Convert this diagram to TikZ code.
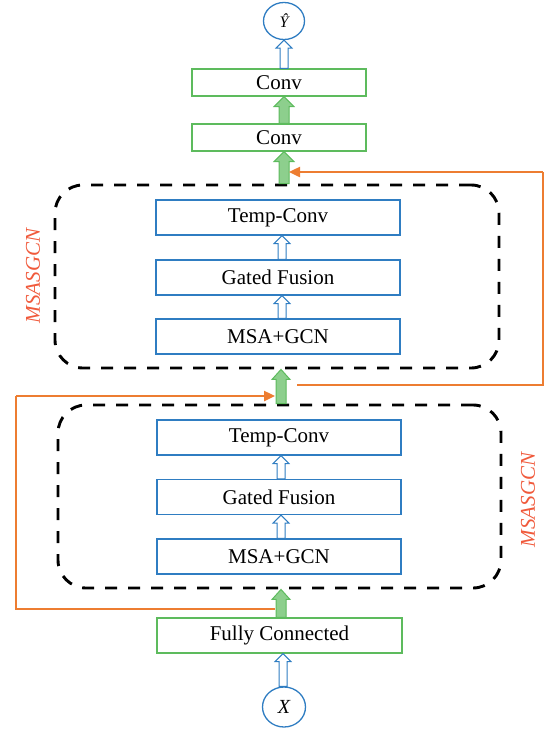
\documentclass[tikz,border=0pt]{standalone}
\usepackage{fontspec}
\setmainfont{Liberation Serif}
\usetikzlibrary{arrows.meta,shapes.geometric,calc}

\definecolor{gline}{HTML}{5DBB5D}
\definecolor{gfill}{HTML}{8DCF8D}
\definecolor{bline}{HTML}{2F7DC2}
\definecolor{oline}{HTML}{ED7D31}
\definecolor{lbl}{HTML}{F05A3C}

\tikzset{
  gbox/.style={draw=gline, line width=1.2pt, minimum width=174pt, minimum height=27pt,
    inner sep=0pt, font=\fontsize{21}{23}\selectfont},
  bbox/.style={draw=bline, line width=1.2pt, minimum width=244pt, minimum height=35pt,
    inner sep=0pt, font=\fontsize{21}{23}\selectfont},
  circ/.style={ellipse, draw=bline, line width=1.3pt, inner sep=0pt},
  group/.style={draw=black, line width=2.9pt, dash pattern=on 12pt off 11pt,
    rounded corners=28pt, inner sep=0pt},
  garrow/.style={fill=gfill, draw=gline, line width=1pt},
  harrow/.style={fill=white, draw=bline, line width=1pt},
  ofb/.style={draw=oline, line width=1.1pt},
  ofbtip/.style={draw=oline, line width=2.4pt, -{Triangle[length=11pt,width=10pt]}},
  tag/.style={text=lbl, font=\itshape\fontsize{21}{23}\selectfont, rotate=90},
}

% block arrow pointing up: style, x, start, end, shaft half width, head half width, head length
\newcommand\blockarrow[7]{%
  \path[#1] let \p1=(#3), \p2=(#4) in
    ({#2pt-#5pt},\y1) -- ({#2pt-#5pt},{\y2-#7pt}) -- ({#2pt-#6pt},{\y2-#7pt})
    -- ({#2pt},\y2) -- ({#2pt+#6pt},{\y2-#7pt}) -- ({#2pt+#5pt},{\y2-#7pt})
    -- ({#2pt+#5pt},\y1) -- cycle;}

\begin{document}
\begin{tikzpicture}[x=1pt, y=-1pt]
  \useasboundingbox (0,0) rectangle (546,731);

  % output side
  \node[circ, minimum width=41pt, minimum height=37pt] (yhat) at (284,21)
    {\fontsize{16}{18}\selectfont\itshape Ŷ};
  \node[gbox] (convB) at (279,82.5) {Conv};
  \node[gbox] (convA) at (279,137.5) {Conv};

  % upper MSASGCN block
  \node[group, minimum width=444pt, minimum height=183pt] (grpU) at (277,276.5) {};
  \node[bbox] (tcU) at (278,217.5) {Temp-Conv};
  \node[bbox] (gfU) at (278,277.5) {Gated Fusion};
  \node[bbox] (msU) at (278,336.5) {MSA+GCN};
  \node[tag] (tagU) at (33,276) {MSASGCN};

  % lower MSASGCN block
  \node[group, minimum width=443pt, minimum height=183pt] (grpL) at (279.5,496.5) {};
  \node[bbox] (tcL) at (279,437.5) {Temp-Conv};
  \node[bbox] (gfL) at (279,497) {Gated Fusion};
  \node[bbox] (msL) at (279,556.5) {MSA+GCN};
  \node[tag] (tagL) at (528,500) {MSASGCN};

  % input side
  \node[gbox, minimum width=245pt, minimum height=35pt] (fc) at (279.5,635.5) {Fully Connected};
  \node[circ, minimum width=43pt, minimum height=40pt] (xin) at (284,707)
    {\fontsize{20}{22}\selectfont\itshape X};

  % hollow arrows
  \blockarrow{harrow}{284}{convB.north}{yhat.south}{4}{8}{8}
  \blockarrow{harrow}{283}{xin.north}{fc.south}{4}{8}{8}
  \blockarrow{harrow}{282}{msU.north}{gfU.south}{4}{8}{8}
  \blockarrow{harrow}{282}{gfU.north}{tcU.south}{4}{8}{8}
  \blockarrow{harrow}{281}{msL.north}{gfL.south}{4}{8}{8}
  \blockarrow{harrow}{281}{gfL.north}{tcL.south}{4}{8}{8}

  % filled arrows
  \blockarrow{garrow}{284}{convA.north}{convB.south}{5}{10}{10}
  \blockarrow{garrow}{284}{grpU.north}{convA.south}{5}{10}{10}
  \blockarrow{garrow}{281}{grpL.north}{grpU.south}{5}{9}{10}
  \blockarrow{garrow}{281}{fc.north}{grpL.south}{5}{9}{10}

  % residual feedback lines
  \coordinate (rA) at (297,385);
  \coordinate (rB) at (543,385);
  \coordinate (rC) at (543,172);
  \coordinate (rEnd) at (289,172);
  \draw[ofb] (rA) -- (rB) -- (rC);
  \draw[ofbtip] (rC) -- (rEnd);

  \coordinate (sA) at (275,609);
  \coordinate (sB) at (16,609);
  \coordinate (sC) at (16,396);
  \coordinate (sEnd) at (275,396);
  \draw[ofb] (sA) -- (sB) -- (sC);
  \draw[ofbtip] (sC) -- (sEnd);
\end{tikzpicture}
\end{document}
